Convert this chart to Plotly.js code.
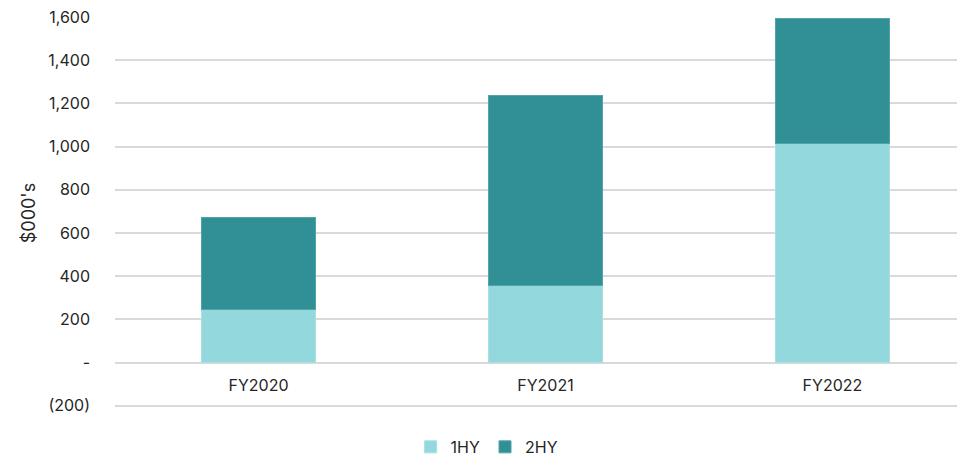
<!DOCTYPE html>
<html>
<head>
<meta charset="utf-8">
<script src="https://cdn.plot.ly/plotly-3.0.1.min.js"></script>
<style>html,body{margin:0;padding:0;background:#fff;}#chart{width:957px;height:457px;}</style>
</head>
<body>
<div id="chart"></div>
<script>
var categories = ["FY2020", "FY2021", "FY2022"];
var series1HY = [244, 357, 1016];
var series2HY = [430, 881, 576];
var yTickVals = [-200, 0, 200, 400, 600, 800, 1000, 1200, 1400, 1600];
var yTickText = ["(200)", "-", "200", "400", "600", "800", "1,000", "1,200", "1,400", "1,600"];

var fontFam = "Inter, 'Open Sans', sans-serif";
var traces = [
  {type: "bar", name: "1HY", x: categories, y: series1HY,
   marker: {color: "#92D8DC", line: {color: "#A6E0E3", width: 1}}, width: 0.4},
  {type: "bar", name: "2HY", x: categories, y: series2HY,
   marker: {color: "#319096", line: {color: "#4FA5AA", width: 1}}, width: 0.4}
];
var layout = {
  width: 957, height: 457,
  barmode: "stack",
  margin: {l: 115, r: 0, t: 17, b: 48},
  paper_bgcolor: "#fff", plot_bgcolor: "#fff",
  font: {family: fontFam, size: 16, color: "#262626"},
  showlegend: true,
  legend: {orientation: "h", xref: "container", yref: "container", x: 0.509, xanchor: "center",
           y: 0.022, yanchor: "middle", font: {size: 16, color: "#262626"}, traceorder: "normal",
           itemwidth: 30},
  xaxis: {range: [-0.5, 2.434], showgrid: false, zeroline: false, showline: false,
          ticks: "", anchor: "free", position: 0.1178, ticklabelstandoff: 11,
          tickfont: {size: 16}},
  yaxis: {range: [-215, 1600], tickvals: yTickVals, ticktext: yTickText,
          showgrid: true, gridcolor: "#D9D9D9", gridwidth: 1.5,
          zeroline: true, zerolinecolor: "#D9D9D9", zerolinewidth: 1.5,
          showline: false, ticks: "", ticklabelstandoff: 24,
          title: {text: "$000's", font: {size: 18}, standoff: 8},
          tickfont: {size: 16}}
};
Plotly.newPlot("chart", traces, layout, {displayModeBar: false});
</script>
</body>
</html>
